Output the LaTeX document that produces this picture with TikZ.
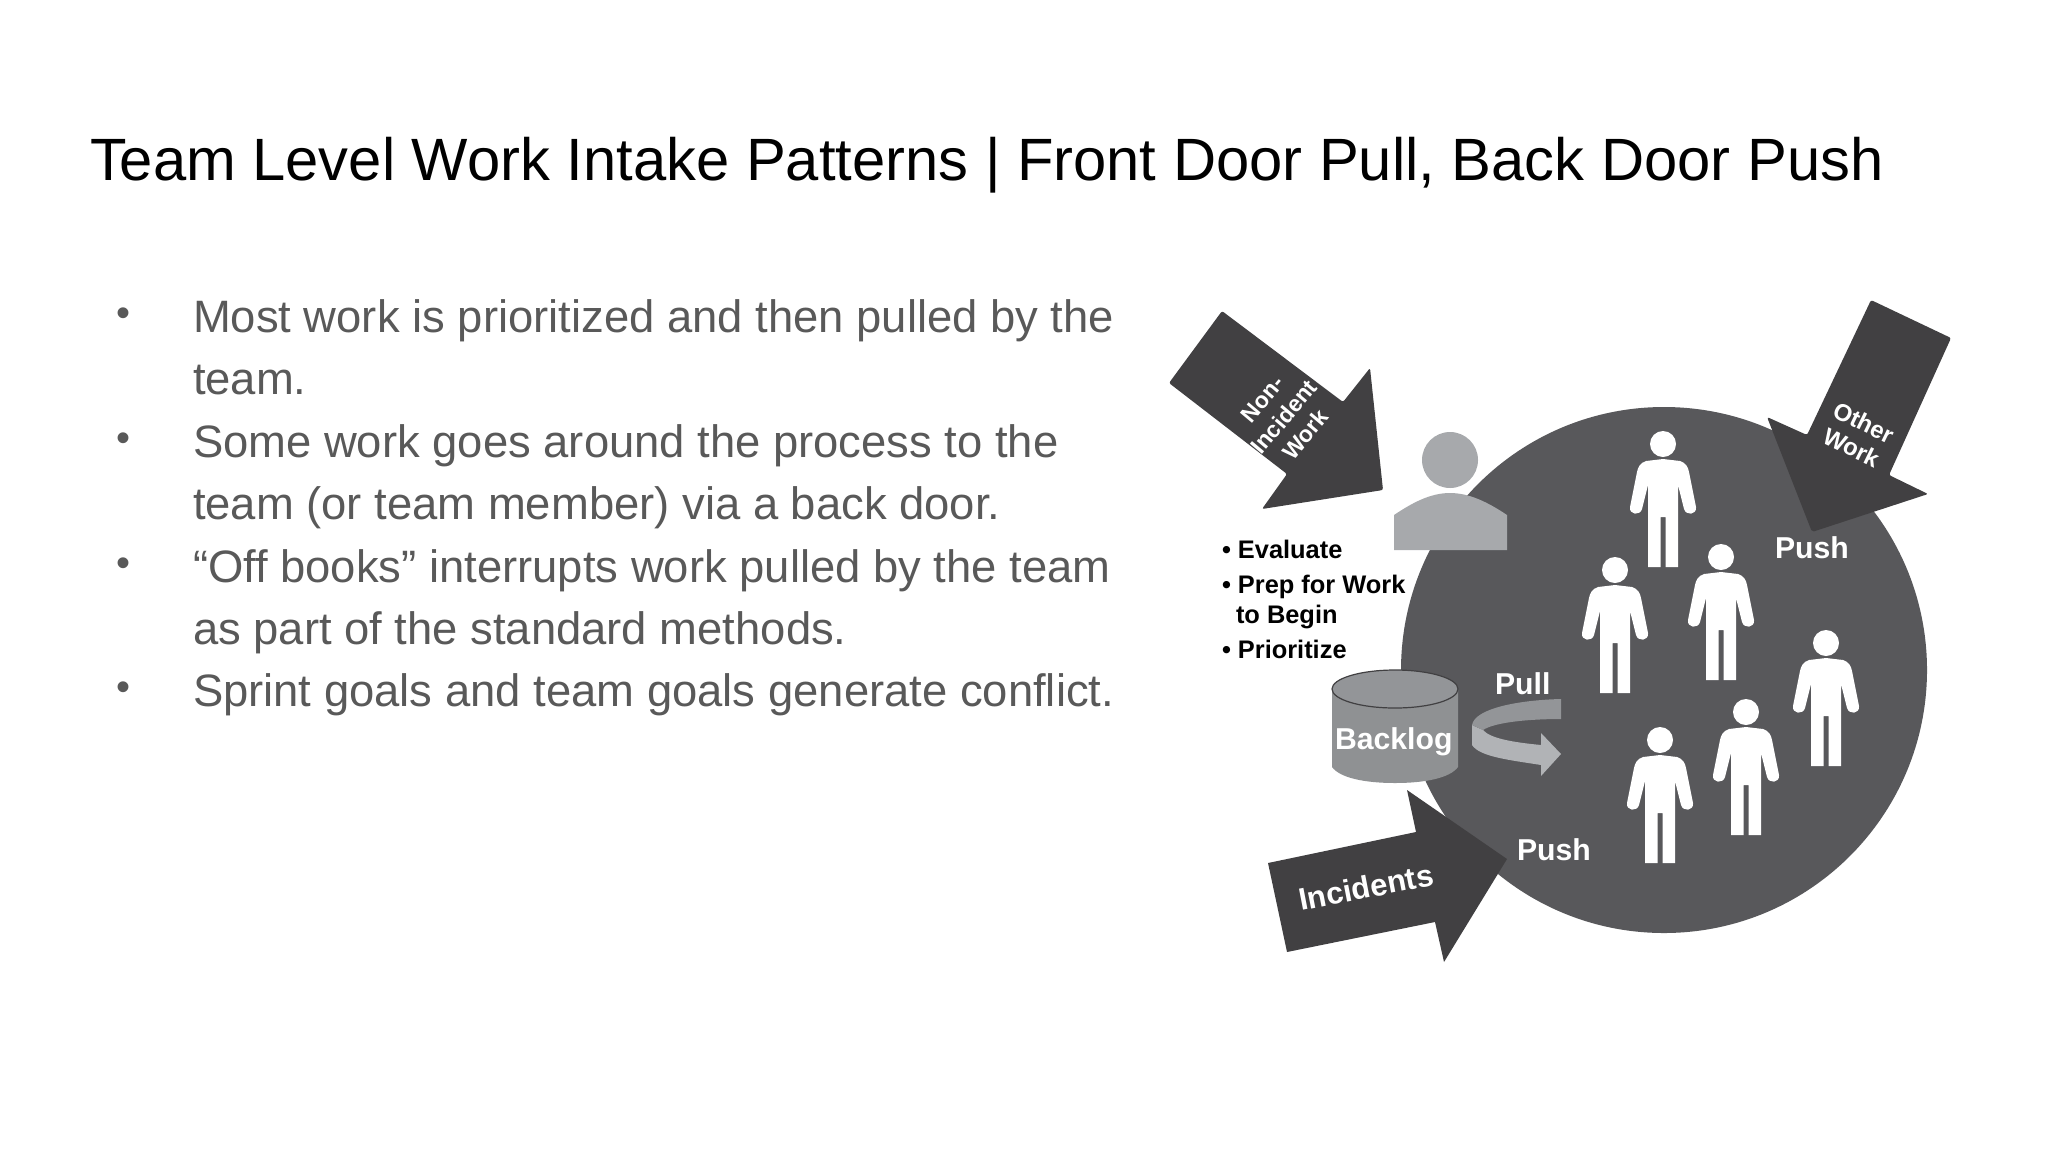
\documentclass[tikz,border=0pt]{standalone}
\usepackage{fontspec}
\setmainfont{Liberation Sans}
\definecolor{circlegrey}{HTML}{58585B}
\definecolor{arrowgrey}{HTML}{414042}
\definecolor{ownergrey}{HTML}{A7A9AC}
\definecolor{drumgrey}{HTML}{8F9193}
\definecolor{pulldark}{HTML}{939598}
\definecolor{pulllight}{HTML}{B1B3B6}
\definecolor{bodygrey}{HTML}{595959}
\tikzset{
  titletext/.style={anchor=base west,text=black,font=\fontsize{29.86}{36}\selectfont},
  bodyline/.style={anchor=base west,text=bodygrey,font=\fontsize{22.7}{28}\selectfont},
  bodydot/.style={anchor=base,text=bodygrey,font=\fontsize{20}{28}\selectfont},
  duty/.style={anchor=base west,text=black,font=\bfseries\fontsize{12.7}{15}\selectfont},
  onwhite/.style={text=white,font=\bfseries\fontsize{15.1}{18}\selectfont},
  inarrow/.style={text=white,align=center,font=\bfseries\fontsize{11.5}{15}\selectfont},
  teamman/.pic={
    \fill[white] (0,0) circle (13);
    \fill[white] (0,15) -- (-17,17) .. controls (-23,19) and (-25,23) .. (-26,28) -- (-33,63) .. controls (-34,71) and (-23,72) .. (-21,65) -- (-15,41) -- (-15,123) -- (-2.5,123) -- (-2.5,73) -- (2.5,73) -- (2.5,123) -- (15,123) -- (15,41) -- (21,65) .. controls (23,72) and (34,71) .. (33,63) -- (26,28) .. controls (25,23) and (23,19) .. (17,17) -- cycle;
  }
}
\begin{document}
\begin{tikzpicture}[y=0.5pt, x=0.5pt, yscale=-1, inner sep=0pt, outer sep=0pt]
  \useasboundingbox (0,0) rectangle (2048,1152);
  \node[titletext] (title) at (90,180) {Team Level Work Intake Patterns | Front Door Pull, Back Door Push};

  % left text
  \node[bodydot] (dotone) at (124,326) {•};
  \node[bodyline] (lineone) at (193,332) {Most work is prioritized and then pulled by the};
  \node[bodyline] (linetwo) at (193,394) {team.};
  \node[bodydot] (dottwo) at (124,451) {•};
  \node[bodyline] (linethree) at (193,457) {Some work goes around the process to the};
  \node[bodyline] (linefour) at (193,519) {team (or team member) via a back door.};
  \node[bodydot] (dotthree) at (124,576) {•};
  \node[bodyline] (linefive) at (193,582) {“Off books” interrupts work pulled by the team};
  \node[bodyline] (linesix) at (193,644) {as part of the standard methods.};
  \node[bodydot] (dotfour) at (124,700) {•};
  \node[bodyline] (lineseven) at (193,706) {Sprint goals and team goals generate conflict.};

  % team
  \fill[circlegrey] (1664,670) circle (263);
  \foreach \px/\py in {1663/444,1615/570,1721/557,1826/643,1746/712,1660/740}
    \pic[transform shape] at (\px,\py) {teamman};

  % owner
  \fill[ownergrey] (1450,460) circle (28);
  \fill[ownergrey] (1394,550) -- (1394,515) .. controls (1412,503) and (1430,493) .. (1450,493) .. controls (1470,493) and (1489,503) .. (1507,515) -- (1507,550) -- cycle;

  % big arrows
  \fill[arrowgrey,rounded corners=1pt] (1222,311) -- (1343,402) -- (1370,368) -- (1383,490) -- (1262,509) -- (1287,474) -- (1169,383) -- cycle;
  \fill[arrowgrey,rounded corners=1pt] (1871,300) -- (1951,338) -- (1889,475) -- (1928,494) -- (1812,532) -- (1767,417) -- (1807,435) -- cycle;
  \fill[arrowgrey] (1268,863) -- (1416,832) -- (1407,790) -- (1507,859) -- (1444,962) -- (1435,922) -- (1287,952) -- cycle;
  \node[inarrow,rotate=50] (nonincident) at (1284,417) {Non-\\[-1pt]Incident\\[-1pt]Work};
  \node[inarrow,rotate=-26,font=\bfseries\fontsize{12}{15}\selectfont] (otherwork) at (1858,435) {Other\\[-1pt]Work};
  \node[text=white,rotate=11,font=\bfseries\fontsize{15.5}{18}\selectfont] (incidents) at (1366,887) {Incidents};

  % backlog
  \fill[drumgrey] (1332,689) -- (1332,767) .. controls (1340,778) and (1365,783) .. (1395,783) .. controls (1425,783) and (1450,778) .. (1458,767) -- (1458,689) -- cycle;
  \filldraw[fill=pulldark,draw=arrowgrey,line width=0.6pt] (1395,689) ellipse [x radius=63,y radius=19];
  \node[onwhite,anchor=base west] (backlog) at (1335,749) {Backlog};

  % pull arrow
  \fill[pulllight] (1472,725) -- (1472,745) .. controls (1480,757) and (1510,760) .. (1541,765) -- (1541,776) -- (1561,754) -- (1541,733) -- (1541,745) .. controls (1510,742) and (1490,738) .. (1483,730) -- cycle;
  \fill[pulldark] (1561,699) .. controls (1520,700) and (1475,708) .. (1472,725) -- (1483,730) .. controls (1495,722) and (1530,719) .. (1561,719) -- cycle;
  \node[onwhite,anchor=base west] (pull) at (1495,694) {Pull};
  \node[onwhite,anchor=base west] (pushtop) at (1775,558) {Push};
  \node[onwhite,anchor=base west] (pushlow) at (1517,860) {Push};

  % intake duties
  \node[duty] (dutyone) at (1222,558) {• Evaluate};
  \node[duty] (dutytwo) at (1222,593) {• Prep for Work};
  \node[duty] (dutythree) at (1236,623) {to Begin};
  \node[duty] (dutyfour) at (1222,658) {• Prioritize};
\end{tikzpicture}
\end{document}
